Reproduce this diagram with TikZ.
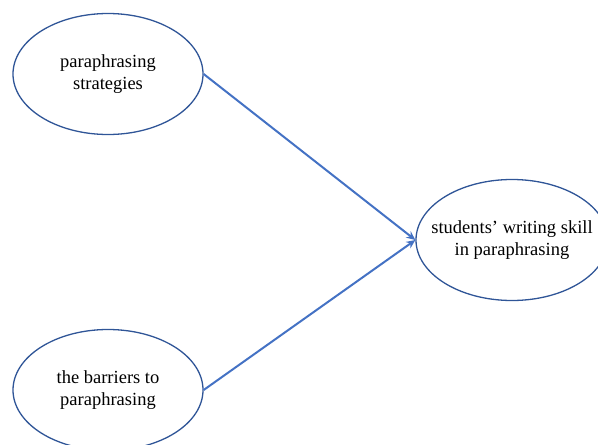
\documentclass[tikz,border=0pt]{standalone}
\usepackage{fontspec}
\setmainfont{Liberation Serif}
\usetikzlibrary{shapes.geometric,arrows.meta}
\definecolor{ellcol}{HTML}{2F5597}
\definecolor{arrcol}{HTML}{4472C4}
\begin{document}
\begin{tikzpicture}[x=1pt,y=-1pt,
  oval/.style={ellipse, draw=ellcol, line width=1.3pt, minimum width=190pt, minimum height=121pt, inner sep=0pt},
  txt/.style={align=center, inner sep=0pt, font=\fontsize{18.5}{22}\selectfont},
  conn/.style={draw=arrcol, line width=2pt, -{Stealth[length=9pt,width=8pt]}}]
\useasboundingbox (0,0) rectangle (598,445);
\clip (0,0) rectangle (598,445);
\node[oval] (a) at (108,74) {};
\node[txt] (at) at (a.center) {paraphrasing\\strategies};
\node[oval] (b) at (108,390) {};
\node[txt] (bt) at (b.center) {the barriers to\\paraphrasing};
\node[oval, minimum width=192pt] (c) at (512,240) {};
\node[txt] (ct) at (c.center) {students’ writing skill\\in paraphrasing};
\draw[conn] (a.east) -- (c.west);
\draw[conn] (b.east) -- (c.west);
\end{tikzpicture}
\end{document}
